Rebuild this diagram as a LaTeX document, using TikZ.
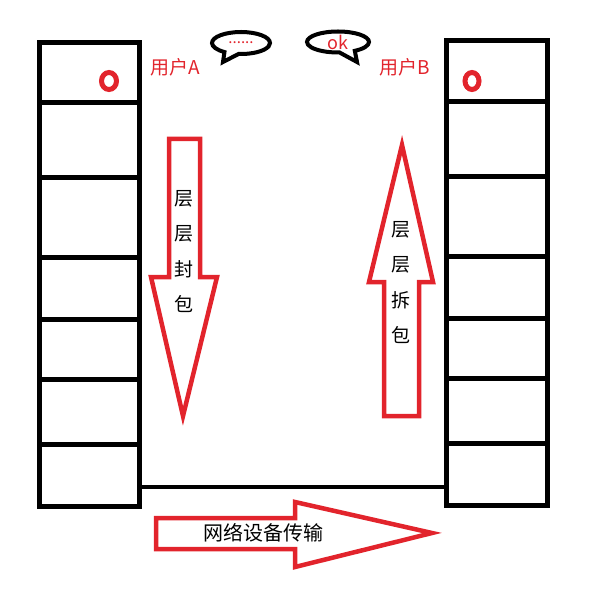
\documentclass[tikz,border=0pt]{standalone}
\usepackage{fontspec}
\setmainfont{Noto Sans CJK SC}
\usetikzlibrary{shapes.geometric,shapes.callouts,positioning}
\definecolor{penred}{RGB}{226,36,44}
\begin{document}
\begin{tikzpicture}[x=1pt,y=-1pt]
\tikzstyle{layer}=[draw=black,line width=5pt]
\tikzstyle{redarrow}=[draw=penred,line width=4.5pt,line join=miter]
\tikzstyle{vchar}=[inner sep=0pt,node distance=35pt,font=\fontsize{19}{19}\selectfont]
\tikzstyle{user}=[inner sep=0pt,text=penred,font=\fontsize{19}{19}\selectfont]
\tikzstyle{bubble}=[ellipse callout,draw=black,line width=4pt,inner sep=0pt,
text=penred,callout pointer arc=30]
\tikzstyle{port}=[ellipse,draw=penred,line width=5pt,inner sep=0pt,
minimum width=15pt,minimum height=17pt]
\useasboundingbox (0,0) rectangle (601,601);

% two protocol stacks
\foreach \a/\b in {43/103,103/178,178/257,257/319,319/379,379/444,444/506}
  \draw[layer] (39,\a) rectangle (139,\b);
\foreach \a/\b in {41/102,102/177,177/256,256/318,318/378,378/443,443/505}
  \draw[layer] (446,\a) rectangle (547,\b);
\coordinate (linkA) at (139,487);
\coordinate (linkB) at (446,487);
\draw[layer,line width=4.5pt] (linkA) -- (linkB);

\node[port] at (109,81) (portA) {};
\node[port,minimum width=14pt] at (472,81) (portB) {};
\node[user] at (175,67) (userA) {用户A};
\node[user] at (405,67) (userB) {用户B};

\node[bubble,minimum width=58pt,minimum height=22pt,
callout absolute pointer={(223,62)}] at (241,43) (saysA)
{\fontsize{15}{15}\selectfont ......};
\node[bubble,minimum width=62pt,minimum height=21pt,
callout absolute pointer={(357,62)}] at (338,42) (saysB)
{\fontsize{18}{18}\selectfont ok};

\draw[redarrow] (169,139) -- (200,139) -- (200,277) -- (217,277)
  -- (183,416) -- (151,277) -- (169,277) -- cycle;
\node[vchar] at (184,199) (pack1) {层};
\node[vchar,below of=pack1] (pack2) {层};
\node[vchar,below of=pack2] (pack3) {封};
\node[vchar,below of=pack3] (pack4) {包};

\draw[redarrow] (402,145) -- (433,282) -- (419,282) -- (419,416)
  -- (384,416) -- (384,282) -- (369,282) -- cycle;
\node[vchar] at (401,230) (unpack1) {层};
\node[vchar,below of=unpack1] (unpack2) {层};
\node[vchar,below of=unpack2] (unpack3) {拆};
\node[vchar,below of=unpack3] (unpack4) {包};

\draw[redarrow] (156,518) -- (295,518) -- (295,502) -- (432,533)
  -- (295,567) -- (295,549) -- (156,549) -- cycle;
\node[vchar,font=\fontsize{20}{20}\selectfont] at (263,533) (wire) {网络设备传输};

\end{tikzpicture}
\end{document}
